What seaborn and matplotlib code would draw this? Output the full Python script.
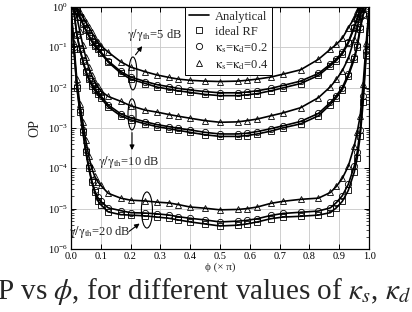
"""OP vs phi for different SNR thresholds and hardware impairment levels."""

import matplotlib
matplotlib.use("Agg")
import matplotlib.pyplot as plt
import numpy as np
import pandas as pd
import seaborn as sns
from matplotlib.lines import Line2D
from matplotlib.patches import Ellipse
from matplotlib.ticker import FormatStrFormatter, LogLocator, MultipleLocator, NullFormatter

# phase phi (x pi) at which the curves were read
phi = [0.0, 0.01, 0.02, 0.03, 0.04, 0.05, 0.06, 0.07, 0.08, 0.09, 0.10,
       0.125, 0.167, 0.20, 0.25, 0.29, 0.33, 0.36, 0.40, 0.45, 0.50,
       0.56, 0.59, 0.625, 0.67, 0.71, 0.77, 0.83, 0.87, 0.89, 0.91,
       0.93, 0.95, 0.96, 0.97, 0.98, 0.99, 1.0]

# log10(OP)
ideal_5db = [0, 0, -.08, -.25, -.42, -.58, -.72, -.86, -.97, -1.05, -1.14,
             -1.37, -1.64, -1.79, -1.9, -1.99, -2.04, -2.08, -2.12, -2.17, -2.2,
             -2.2, -2.18, -2.15, -2.08, -2.01, -1.9, -1.7, -1.46, -1.33, -1.17,
             -.9, -.52, -.3, -.06, 0, 0, 0]
k02_5db = [0, 0, -.07, -.24, -.41, -.56, -.7, -.84, -.95, -1.03, -1.11,
           -1.34, -1.6, -1.74, -1.85, -1.93, -1.98, -2.02, -2.06, -2.1, -2.13,
           -2.13, -2.11, -2.08, -2.02, -1.95, -1.84, -1.65, -1.42, -1.29, -1.13,
           -.87, -.49, -.27, -.04, 0, 0, 0]
k04_5db = [0, 0, -.02, -.12, -.25, -.38, -.5, -.63, -.76, -.87, -.96,
           -1.12, -1.36, -1.49, -1.61, -1.69, -1.75, -1.79, -1.82, -1.84, -1.85,
           -1.84, -1.82, -1.79, -1.74, -1.67, -1.56, -1.3, -1.05, -.93, -.78,
           -.52, -.28, -.1, -.01, 0, 0, 0]

ideal_10db = [0, -.1, -.7, -1.05, -1.35, -1.62, -1.8, -1.95, -2.07, -2.17, -2.25,
              -2.48, -2.7, -2.8, -2.9, -2.97, -3.02, -3.06, -3.11, -3.17, -3.21,
              -3.21, -3.19, -3.15, -3.08, -3.0, -2.9, -2.7, -2.42, -2.25, -2.05,
              -1.72, -1.3, -1.0, -.55, -.2, 0, 0]
k02_10db = [0, -.1, -.68, -1.03, -1.32, -1.58, -1.76, -1.91, -2.03, -2.12, -2.2,
            -2.43, -2.65, -2.75, -2.85, -2.92, -2.97, -3.01, -3.05, -3.11, -3.15,
            -3.15, -3.13, -3.09, -3.02, -2.95, -2.84, -2.64, -2.37, -2.2, -2.0,
            -1.67, -1.25, -.95, -.5, -.17, 0, 0]
k04_10db = [0, 0, -.25, -.6, -.95, -1.25, -1.5, -1.7, -1.85, -1.97, -2.08,
            -2.22, -2.34, -2.45, -2.56, -2.61, -2.67, -2.71, -2.76, -2.82, -2.86,
            -2.85, -2.82, -2.78, -2.7, -2.63, -2.5, -2.25, -1.98, -1.8, -1.58,
            -1.28, -.8, -.5, -.22, -.02, 0, 0]

ideal_20db = [0, -1.05, -2.0, -2.6, -3.1, -3.6, -4.0, -4.35, -4.6, -4.8, -4.9,
              -5.08, -5.15, -5.16, -5.18, -5.21, -5.24, -5.28, -5.33, -5.38, -5.43,
              -5.41, -5.38, -5.33, -5.25, -5.21, -5.19, -5.16, -5.1, -4.98, -4.82,
              -4.55, -4.1, -3.75, -3.2, -2.35, -1.2, 0]
k02_20db = [0, -1.0, -1.95, -2.55, -3.05, -3.55, -3.95, -4.3, -4.55, -4.72, -4.82,
            -4.98, -5.05, -5.1, -5.11, -5.13, -5.16, -5.2, -5.24, -5.28, -5.33,
            -5.31, -5.29, -5.25, -5.17, -5.12, -5.09, -5.06, -4.98, -4.85, -4.68,
            -4.4, -3.95, -3.6, -3.05, -2.2, -1.1, 0]
k04_20db = [0, -.9, -1.8, -2.4, -2.85, -3.3, -3.7, -4.0, -4.2, -4.33, -4.42,
            -4.62, -4.74, -4.79, -4.81, -4.84, -4.86, -4.9, -4.96, -4.99, -5.03,
            -5.02, -5.0, -4.96, -4.87, -4.82, -4.77, -4.74, -4.6, -4.45, -4.25,
            -3.95, -3.45, -3.1, -2.7, -1.9, -0.9, 0]

scheme_markers = {"ideal RF": "s", "k02": "o", "k04": "^"}
curves = {
    ("5 dB", "ideal RF"): ideal_5db, ("5 dB", "k02"): k02_5db, ("5 dB", "k04"): k04_5db,
    ("10 dB", "ideal RF"): ideal_10db, ("10 dB", "k02"): k02_10db, ("10 dB", "k04"): k04_10db,
    ("20 dB", "ideal RF"): ideal_20db, ("20 dB", "k02"): k02_20db, ("20 dB", "k04"): k04_20db,
}

rows = []
for (snr, scheme), vals in curves.items():
    for p, v in zip(phi, vals):
        rows.append({"phi": p, "op": 10.0 ** v, "snr": snr, "scheme": scheme})
df = pd.DataFrame(rows)

sns.set_theme(style="ticks")
plt.rcParams["font.family"] = ["Liberation Serif", "DejaVu Serif"]
plt.rcParams["mathtext.fontset"] = "stix"
plt.rcParams["axes.linewidth"] = 0.9
plt.rcParams["axes.edgecolor"] = "black"

fig = plt.figure(figsize=(4.12, 3.12), dpi=100)
ax = fig.add_axes([0.172, 0.202, 0.724, 0.776])

for (snr, scheme), sub in df.groupby(["snr", "scheme"]):
    sub = sub.sort_values("phi")
    sns.lineplot(
        data=sub, x="phi", y="op", ax=ax, color="black", lw=1.2,
        estimator=None, sort=False, legend=False,
        marker=scheme_markers[scheme], markersize=4.5,
        markerfacecolor="none", markeredgecolor="black", markeredgewidth=0.6,
        markevery=list(sub["op"].values < 0.999),
    )

ax.set_yscale("log")
ax.set_xlim(0, 1)
ax.set_ylim(1e-6, 1)
ax.xaxis.set_major_locator(MultipleLocator(0.1))
ax.xaxis.set_major_formatter(FormatStrFormatter("%.1f"))
ax.yaxis.set_major_locator(LogLocator(base=10, numticks=10))
ax.yaxis.set_minor_locator(LogLocator(base=10, subs=np.arange(2, 10), numticks=10))
ax.yaxis.set_minor_formatter(NullFormatter())
ax.tick_params(which="both", direction="in", top=True, right=True, colors="black")
ax.tick_params(which="major", length=3.5, width=0.7, labelsize=7.5, pad=2)
ax.tick_params(which="minor", length=2, width=0.5)
ax.grid(True, which="major", color="#c8c8c8", lw=0.6)
ax.set_axisbelow(True)

ax.set_xlabel("ϕ (× π)", fontsize=8, labelpad=1)
ax.set_ylabel("OP", fontsize=10, labelpad=5)

handles = [
    Line2D([], [], color="black", lw=1.2),
    Line2D([], [], ls="none", marker="s", ms=4.5, mfc="none", mec="black", mew=0.6),
    Line2D([], [], ls="none", marker="o", ms=4.5, mfc="none", mec="black", mew=0.6),
    Line2D([], [], ls="none", marker="^", ms=4.5, mfc="none", mec="black", mew=0.6),
]
labels = ["Analytical", "ideal RF",
          r"$\mathrm{\kappa_s}$=$\mathrm{\kappa_d}$=0.2",
          r"$\mathrm{\kappa_s}$=$\mathrm{\kappa_d}$=0.4"]
leg = ax.legend(handles, labels, loc="upper left", bbox_to_anchor=(0.383, 1.0),
                borderaxespad=0, fontsize=9, frameon=True, fancybox=False,
                framealpha=1, edgecolor="black", handlelength=1.6,
                handletextpad=0.5, labelspacing=0.25, borderpad=0.3)
leg.get_frame().set_linewidth(0.7)

# ellipses and labels for each SNR group
for cx, cy, w, h in [(0.208, 0.725, 0.027, 0.136),
                     (0.205, 0.556, 0.027, 0.128),
                     (0.255, 0.161, 0.037, 0.149)]:
    ax.add_patch(Ellipse((cx, cy), w, h, transform=ax.transAxes,
                         fill=False, ec="black", lw=0.8, zorder=5))

arrow = dict(arrowstyle="-|>", color="black", lw=0.8, mutation_scale=7)
ax.annotate("", xy=(0.245, 0.847), xytext=(0.211, 0.793),
            xycoords="axes fraction", arrowprops=arrow)
ax.text(0.282, 0.884, r"$\mathrm{\gamma/\gamma_{th}}$=5 dB", transform=ax.transAxes,
        ha="center", va="center", fontsize=9)
ax.annotate("", xy=(0.205, 0.397), xytext=(0.205, 0.492),
            xycoords="axes fraction", arrowprops=arrow)
ax.text(0.195, 0.36, r"$\mathrm{\gamma/\gamma_{th}}$=10 dB", transform=ax.transAxes,
        ha="center", va="center", fontsize=9)
ax.annotate("", xy=(0.238, 0.112), xytext=(0.188, 0.066),
            xycoords="axes fraction", arrowprops=arrow)
ax.text(0.097, 0.07, r"$\mathrm{\gamma/\gamma_{th}}$=20 dB", transform=ax.transAxes,
        ha="center", va="center", fontsize=9)

fig.text(-0.008, 0.066, r"P vs $\phi$, for different values of $\kappa_s$, $\kappa_d$",
         fontsize=21, ha="left", va="center")

fig.savefig("out.png", dpi=100)
plt.close(fig)
